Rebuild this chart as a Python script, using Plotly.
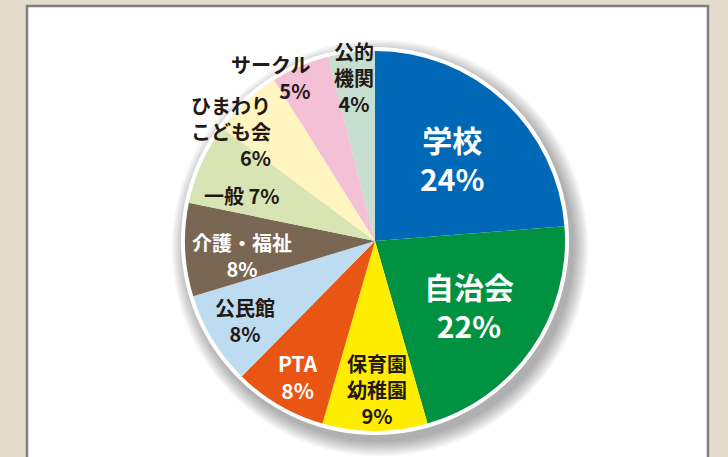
import plotly.graph_objects as go

# Data
categories = ["学校", "自治会", "保育園<br>幼稚園", "PTA", "公民館", "介護・福祉", "一般", "ひまわり<br>こども会", "サークル", "公的<br>機関"]
values = [24, 22, 9, 8, 8, 8, 7, 6, 5, 4]
colors = ["#0068B7", "#009240", "#FFED00", "#E95513", "#BEDCF1", "#7A6753", "#D8E4B3", "#FFF5C0", "#F3C0D5", "#C5DECF"]
text_colors = ["white", "white", "#231815", "white", "#231815", "white", "#231815", "#231815", "#231815", "#231815"]

W, H = 728, 457
cx, cy, r = 375, 241, 190

def px(x):
    return x / W

def py(y):
    return 1 - y / H

fig = go.Figure()
fig.add_trace(go.Pie(
    labels=[c.replace("<br>", "") for c in categories],
    values=values,
    sort=False,
    direction="clockwise",
    rotation=0,
    marker=dict(colors=colors, line=dict(width=0)),
    textinfo="none",
    hoverinfo="label+percent",
    showlegend=False,
    domain=dict(x=[px(cx - r), px(cx + r)], y=[py(cy + r), py(cy - r)]),
))

shapes = []
# panel
shapes.append(dict(type="rect", xref="paper", yref="paper", x0=px(27), x1=px(708), y0=py(470), y1=py(6),
                   fillcolor="white", line=dict(color="#7F7F7F", width=2.5), layer="below"))
# shadow
for i, rr in enumerate(range(208, 192, -2)):
    shapes.append(dict(type="circle", xref="paper", yref="paper",
                       x0=px(cx + 5 - rr), x1=px(cx + 5 + rr), y0=py(cy + 7 + rr), y1=py(cy + 7 - rr),
                       fillcolor="rgba(0,0,0,0.045)", line=dict(width=0), layer="below"))
# white ring
rw = r + 4
shapes.append(dict(type="circle", xref="paper", yref="paper",
                   x0=px(cx - rw), x1=px(cx + rw), y0=py(cy + rw), y1=py(cy - rw),
                   fillcolor="white", line=dict(width=0), layer="below"))

# label placements (x, y center in px, anchor, font size)
pct = [f"{v}%" for v in values]
label_specs = [
    (452, 158, "center", 30, categories[0] + "<br>" + pct[0]),
    (469, 305, "center", 30, categories[1] + "<br>" + pct[1]),
    (377, 389, "center", 20, categories[2] + "<br>" + pct[2]),
    (298, 376, "center", 21, categories[3] + "<br>" + pct[3]),
    (245, 320, "center", 20, categories[4] + "<br>" + pct[4]),
    (242, 255, "center", 20, categories[5] + "<br>" + pct[5]),
    (242, 195, "center", 20, categories[6] + " " + pct[6]),
    (273, 131, "right", 20, categories[7] + "<br>" + pct[7]),
    (312, 77, "right", 20, categories[8] + "<br>" + pct[8]),
    (354, 77, "center", 20, categories[9] + "<br>" + pct[9]),
]
annotations = []
for i, (x, y, anc, fs, txt) in enumerate(label_specs):
    annotations.append(dict(
        x=px(x), y=py(y), xref="paper", yref="paper", text=txt, showarrow=False,
        xanchor=anc, yanchor="middle", align=anc,
        font=dict(family="Noto Sans CJK JP", size=fs, color=text_colors[i], weight="bold"),
    ))

fig.update_layout(
    width=W, height=H,
    margin=dict(l=0, r=0, t=0, b=0),
    paper_bgcolor="#E3DCCC",
    plot_bgcolor="#E3DCCC",
    shapes=shapes,
    annotations=annotations,
)
fig.write_html("out.html", config={"displayModeBar": False},
               post_script="document.body.style.margin='0';document.body.style.overflow='hidden';")
